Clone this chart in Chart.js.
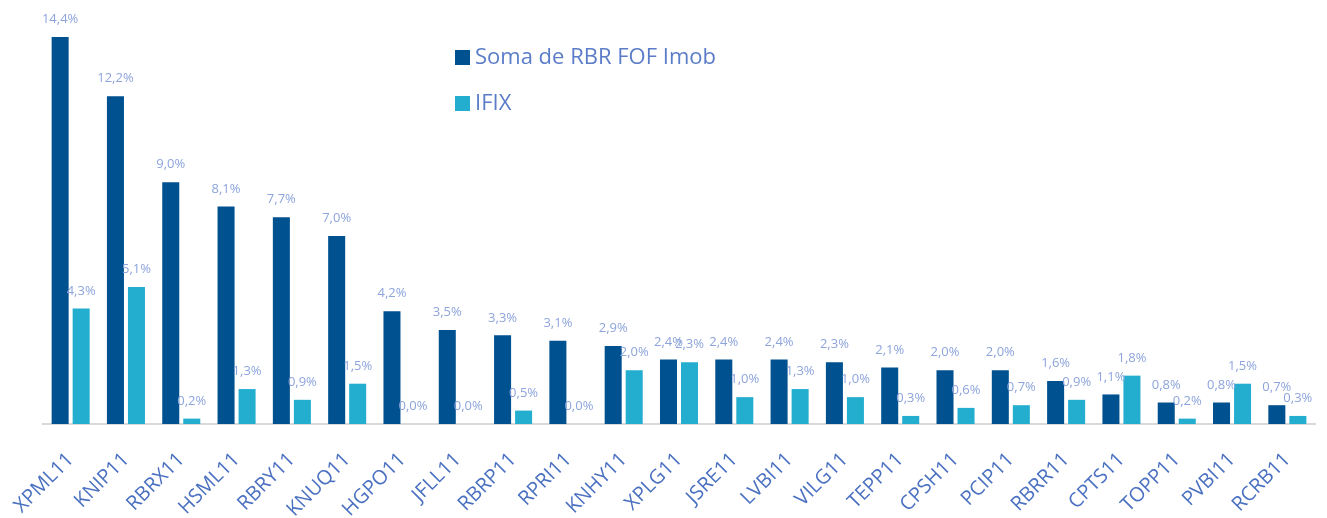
<!DOCTYPE html>
<html>
<head>
<meta charset="utf-8">
<script src="https://cdn.jsdelivr.net/npm/chart.js@4"></script>
<style>
  html, body { margin: 0; padding: 0; background: #fff; }
  #wrap { width: 1327px; height: 518px; }
</style>
</head>
<body>
<div id="wrap"><canvas id="fofChart" width="1327" height="518"></canvas></div>
<script>
const funds = ['XPML11', 'KNIP11', 'RBRX11', 'HSML11', 'RBRY11', 'KNUQ11', 'HGPO11', 'JFLL11',
    'RBRP11', 'RPRI11', 'KNHY11', 'XPLG11', 'JSRE11', 'LVBI11', 'VILG11', 'TEPP11', 'CPSH11',
    'PCIP11', 'RBRR11', 'CPTS11', 'TOPP11', 'PVBI11', 'RCRB11'];
const rbrFof = [14.4, 12.2, 9.0, 8.1, 7.7, 7.0, 4.2, 3.5, 3.3, 3.1, 2.9, 2.4, 2.4, 2.4, 2.3, 2.1,
    2.0, 2.0, 1.6, 1.1, 0.8, 0.8, 0.7];
const ifix = [4.3, 5.1, 0.2, 1.3, 0.9, 1.5, 0.0, 0.0, 0.5, 0.0, 2.0, 2.3, 1.0, 1.3, 1.0, 0.3,
    0.6, 0.7, 0.9, 1.8, 0.2, 1.5, 0.3];
const seriesNames = ['Soma de RBR FOF Imob', 'IFIX'];

const darkBlue = '#00518f';
const lightBlue = '#23aed0';

// value labels above each bar
const barLabels = {
    id: 'barLabels',
    afterDatasetsDraw(chart) {
        const c = chart.ctx;
        c.save();
        c.font = '13px "Open Sans"';
        c.fillStyle = '#8da4dc';
        c.textAlign = 'center';
        c.textBaseline = 'bottom';
        chart.data.datasets.forEach((ds, i) => {
            chart.getDatasetMeta(i).data.forEach((bar, j) => {
                const txt = ds.data[j].toFixed(1).replace('.', ',') + '%';
                c.fillText(txt, bar.x, bar.y - 11);
            });
        });
        c.restore();
    }
};

// legend drawn inside the plot
const innerLegend = {
    id: 'innerLegend',
    afterDraw(chart) {
        const c = chart.ctx;
        const colors = [darkBlue, lightBlue];
        c.save();
        c.font = '22px "Open Sans"';
        c.textBaseline = 'middle';
        seriesNames.forEach((name, i) => {
            const y = 58 + i * 46;
            c.fillStyle = colors[i];
            c.fillRect(455, y - 8, 15, 15);
            c.fillStyle = '#5b7dc8';
            c.fillText(name, 475, y);
        });
        c.restore();
    }
};

new Chart(document.getElementById('fofChart'), {
    type: 'bar',
    data: {
        labels: funds,
        datasets: [
            { label: seriesNames[0], data: rbrFof, backgroundColor: darkBlue,
              barPercentage: 0.81, categoryPercentage: 0.76 },
            { label: seriesNames[1], data: ifix, backgroundColor: lightBlue,
              barPercentage: 0.81, categoryPercentage: 0.76 }
        ]
    },
    options: {
        responsive: false,
        animation: false,
        layout: { padding: { left: 43, right: 12, top: 21, bottom: 0 } },
        plugins: {
            legend: { display: false },
            tooltip: { enabled: false }
        },
        scales: {
            x: {
                grid: { display: false },
                border: { color: '#d9d9d9', width: 2 },
                ticks: {
                    color: '#4a70c0',
                    font: { family: 'Open Sans', size: 20 },
                    minRotation: 45,
                    maxRotation: 45,
                    padding: 16
                },
                afterFit(scale) { scale.height = 94; }
            },
            y: {
                display: false,
                min: 0,
                max: 15
            }
        }
    },
    plugins: [barLabels, innerLegend]
});
</script>
</body>
</html>
